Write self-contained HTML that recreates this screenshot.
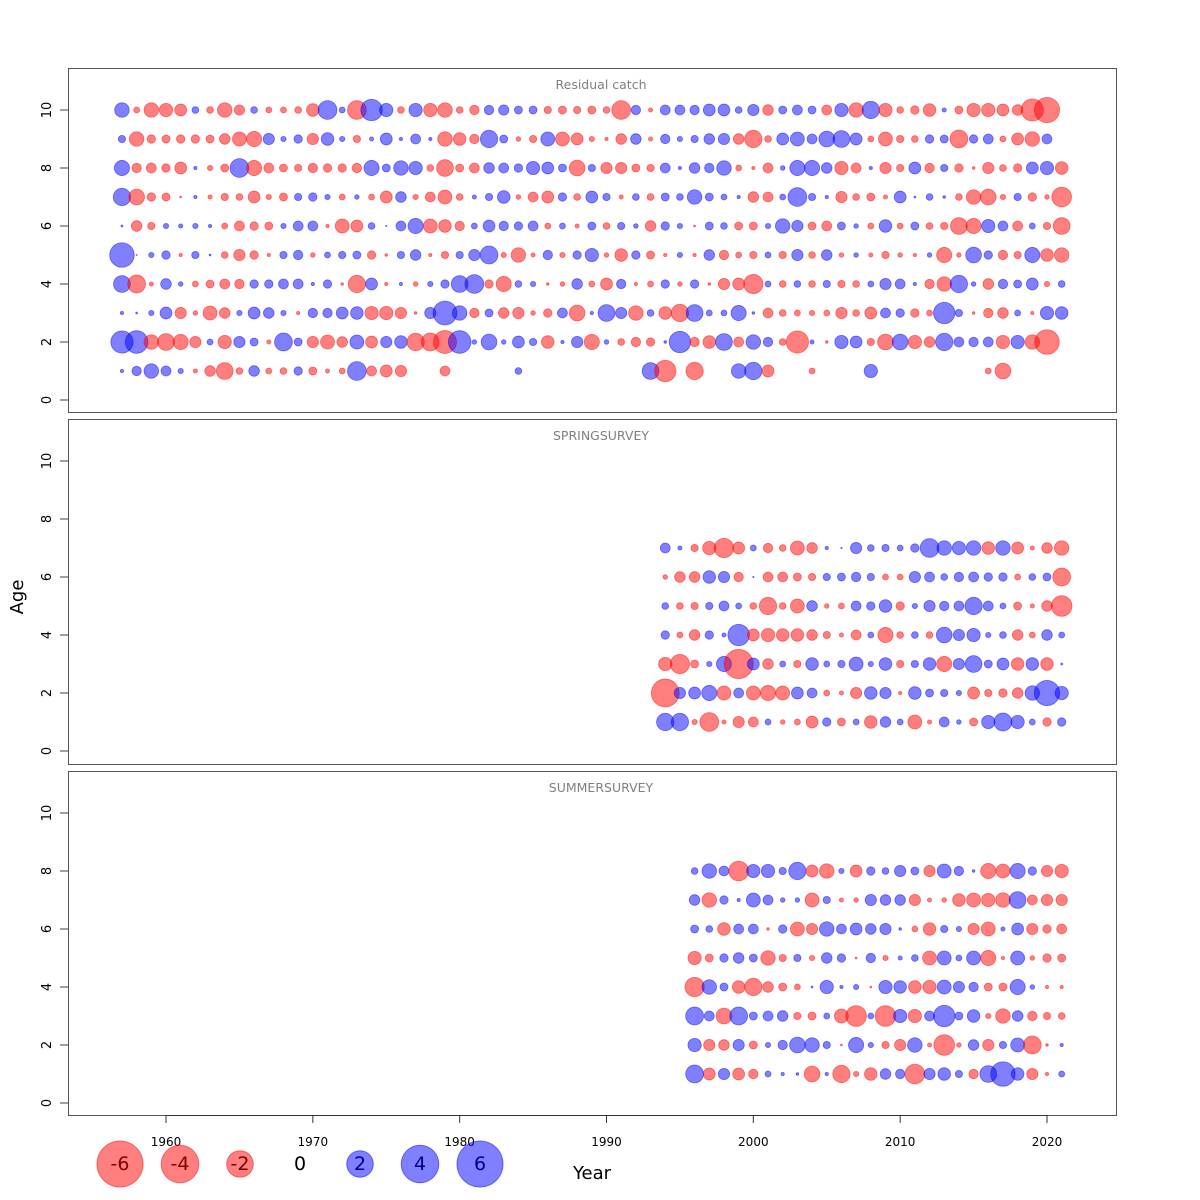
<!DOCTYPE html>
<html><head><meta charset="utf-8"><style>
body{margin:0;background:#fff}
svg{display:block;font-family:"DejaVu Sans","Liberation Sans",sans-serif}
</style></head><body>
<svg id="chart" width="1200" height="1200" viewBox="0 0 1200 1200"></svg>
<script>
// ---- catch panel: years 1957..2021, ages 1..10 ----
const catchYears = Array.from({length:65},(_,i)=>1957+i);
const catchAge10 = [0.6,-0.1,-0.6,-0.5,-0.4,0.13,-0.13,-0.6,-0.3,0.13,-0.1,-0.1,-0.13,-0.45,1.0,0.1,-1.0,1.3,0.5,-0.13,0.5,-0.5,-0.6,-0.13,-0.25,0.25,0.3,0.18,0.18,-0.15,-0.18,-0.15,-0.18,-0.13,-1.0,0.25,-0.05,0.28,0.28,0.25,0.4,0.4,0.13,0.36,-0.32,0.18,0.28,0.18,-0.28,0.5,-0.6,0.85,-0.5,-0.13,-0.2,-0.45,0.05,-0.18,-0.5,-0.5,-0.4,-0.32,-1.4,-1.8,null];
const catchAge9 = [0.15,-0.6,-0.2,-0.18,-0.2,-0.2,-0.18,-0.32,-0.55,-0.65,0.36,0.08,0.2,-0.36,0.45,0.08,-0.15,0.05,0.4,0.03,0.28,0.03,-0.6,-0.45,-0.25,0.85,0.18,-0.06,-0.15,0.55,-0.55,-0.4,-0.08,-0.03,-0.32,0.32,-0.05,0.25,0.08,0.15,0.32,0.36,-0.32,-0.85,-0.13,0.4,0.55,0.28,0.7,0.8,0.4,-0.1,-0.55,-0.15,-0.13,0.2,0.18,-0.9,0.2,0.28,-0.1,-0.4,-0.6,0.28,null];
const catchAge8 = [0.65,-0.25,-0.28,-0.2,-0.4,0.03,-0.08,-0.18,1.0,-0.65,-0.28,-0.18,-0.15,-0.25,-0.2,-0.2,-0.25,0.65,0.18,0.6,0.5,-0.13,-0.8,-0.18,-0.28,0.32,0.28,0.2,0.5,0.4,0.18,-0.7,0.15,-0.36,-0.36,-0.18,-0.15,0.28,0.03,0.32,0.25,0.6,-0.1,-0.03,-0.28,0.06,0.65,0.65,0.32,-0.5,-0.28,0.03,-0.36,-0.15,0.4,-0.25,0.15,-0.2,-0.02,-0.36,-0.13,-0.2,0.4,0.5,-0.45];
const catchAge7 = [0.85,-0.7,-0.2,-0.18,-0.01,0.03,-0.05,-0.15,-0.13,-0.4,-0.08,-0.18,0.15,0.2,0.08,-0.1,0.06,-0.1,-0.4,0.32,-0.08,-0.28,-0.55,-0.13,0.05,0.15,0.45,-0.06,-0.28,-0.4,0.2,-0.13,0.4,0.15,-0.05,0.13,-0.13,0.18,0.13,0.6,0.18,0.1,0.03,-0.32,-0.28,0.1,1.0,0.15,0.03,-0.36,-0.13,-0.18,-0.05,0.4,0.01,0.13,0.02,-0.13,-0.6,-0.7,-0.08,0.15,-0.2,-0.06,-1.1];
const catchAge6 = [0.01,-0.32,-0.15,0.08,0.05,0.08,0.03,-0.1,-0.28,-0.2,-0.18,0.08,0.28,0.28,-0.03,-0.55,-0.4,0.13,0.005,0.28,0.65,-0.55,-0.45,-0.25,0.1,0.4,0.25,0.2,0.28,-0.1,0.1,-0.05,0.18,-0.13,0.15,0.06,-0.32,0.2,0.08,-0.01,0.18,0.13,-0.18,-0.18,0.08,0.6,0.36,-0.18,-0.28,0.18,0.06,-0.1,0.45,-0.1,0.18,-0.13,-0.15,-0.8,-0.65,0.5,0.28,-0.28,0.1,-0.15,-0.8];
const catchAge5 = [1.7,-0.005,0.08,0.2,-0.03,0.15,0.01,-0.13,-0.36,-0.2,-0.03,0.15,0.25,-0.06,0.1,0.15,0.18,-0.2,-0.02,0.15,0.32,-0.03,-0.15,0.15,0.36,0.9,-0.08,-0.6,-0.05,0.25,-0.08,0.2,0.5,-0.06,-0.45,0.2,-0.18,-0.03,0.08,-0.03,0.32,-0.25,-0.1,-0.15,0.1,-0.15,0.36,-0.13,0.32,-0.06,0.06,-0.05,-0.15,-0.06,-0.03,0.06,-0.65,-0.06,0.7,0.2,-0.25,-0.15,0.65,-0.45,-0.6];
const catchAge4 = [0.8,-0.9,-0.05,0.32,0.06,-0.1,-0.18,-0.28,-0.25,0.2,0.2,0.28,0.28,0.03,0.2,-0.02,-0.85,0.4,-0.03,0.03,-0.06,0.08,0.2,0.8,1.0,-0.2,-0.65,0.13,0.08,-0.02,-0.06,0.32,-0.1,-0.4,0.25,-0.03,-0.1,0.2,-0.06,0.2,-0.02,-0.36,-0.4,-1.05,0.1,-0.13,0.13,-0.13,0.15,-0.15,-0.13,0.1,0.36,0.28,0.03,-0.25,-0.6,0.85,0.06,-0.32,0.25,0.18,0.4,-0.08,0.13];
const catchAge3 = [0.03,0.01,0.08,0.4,-0.36,-0.06,-0.55,-0.32,0.08,0.4,0.32,0.08,-0.03,0.25,0.25,0.4,0.45,-0.5,-0.5,-0.36,-0.02,0.36,1.6,0.6,-0.25,0.18,-0.32,-0.36,-0.06,-0.2,0.28,-0.7,0.03,0.8,0.36,-0.6,0.13,-0.45,-0.85,0.8,0.1,0.1,0.65,0.02,-0.28,-0.13,-0.1,-0.08,-0.1,-0.36,-0.13,-0.4,0.28,0.2,-0.2,-0.1,1.3,0.15,-0.02,-0.25,-0.32,0.1,-0.03,0.5,0.45];
const catchAge2 = [1.4,1.45,-0.6,-0.8,-0.65,-0.36,0.1,-0.5,0.36,0.18,-0.05,0.9,0.18,-0.36,-0.55,-0.32,0.55,-0.4,0.36,0.45,-0.85,-0.9,-1.5,1.45,0.06,0.7,0.06,0.4,0.15,-0.45,0.03,0.36,-0.65,0.06,-0.13,-0.25,-0.2,0.02,1.3,-0.25,-0.45,0.8,-0.28,0.6,0.25,-0.13,-1.4,0.05,-0.02,0.5,0.4,-0.15,-0.7,0.7,-0.5,-0.32,0.85,0.28,0.25,0.28,-0.5,0.5,-0.6,-1.7,null];
const catchAge1 = [0.03,0.25,0.6,0.28,0.08,-0.05,-0.32,-0.8,-0.13,0.32,-0.1,-0.13,0.2,-0.18,-0.05,-0.1,1.0,-0.28,-0.4,-0.36,null,null,-0.28,null,null,null,null,0.13,null,null,null,null,null,null,null,null,0.8,-1.3,null,-0.85,null,null,0.6,0.85,-0.4,null,null,-0.1,null,null,null,0.5,null,null,null,null,null,null,null,-0.1,-0.7,null,null,null,null];
// ---- spring survey: years 1994..2021, ages 1..7 ----
const springYears = Array.from({length:28},(_,i)=>1994+i);
const springAge7 = [0.28,0.05,-0.15,-0.5,-1.05,-0.4,0.1,-0.25,-0.13,-0.55,-0.32,0.03,0.005,0.36,0.13,0.15,0.1,0.2,1.0,0.6,0.5,0.6,-0.45,0.6,-0.4,-0.05,-0.32,-0.6];
const springAge6 = [-0.06,-0.32,-0.32,0.45,0.36,-0.25,0.005,-0.28,-0.28,-0.18,-0.15,0.15,0.18,0.25,0.15,-0.1,-0.1,0.36,0.28,0.13,0.25,0.28,0.2,0.2,-0.1,0.13,0.18,-0.9];
const springAge5 = [0.13,-0.13,-0.15,0.15,0.28,0.1,-0.13,-0.85,-0.13,-0.55,0.32,-0.06,-0.1,0.28,0.2,0.45,-0.2,0.08,0.36,0.25,0.28,0.85,0.28,0.1,-0.18,-0.05,-0.32,-1.2];
const springAge4 = [0.2,-0.1,-0.32,0.2,0.05,1.3,-0.4,-0.5,-0.45,-0.45,-0.32,-0.15,-0.05,-0.28,0.1,-0.65,-0.13,0.13,-0.13,0.7,0.36,0.5,0.08,0.13,-0.32,-0.1,0.32,0.1];
const springAge3 = [-0.5,-1.05,-0.18,0.08,0.65,-2.4,0.4,-0.32,0.1,-0.15,0.45,0.1,0.15,0.55,0.08,0.45,-0.15,0.15,0.45,-0.65,0.36,0.8,0.18,0.4,-0.45,0.45,-0.45,0.01];
const springAge2 = [-2.2,0.36,0.4,0.65,-0.55,0.28,-0.55,-0.65,-0.55,0.4,0.28,-0.1,-0.05,-0.36,0.45,0.36,-0.03,0.45,0.18,0.15,0.08,-0.4,-0.15,-0.2,-0.32,0.6,1.8,0.5];
const springAge1 = [0.85,0.85,-0.08,-1.0,-0.05,-0.36,-0.28,0.1,-0.06,-0.1,-0.4,0.2,-0.18,0.1,-0.45,0.32,0.1,-0.55,-0.05,0.28,0.06,-0.18,0.5,0.9,0.5,0.1,-0.2,0.2];
// ---- summer survey: years 1996..2021, ages 1..8 ----
const summerYears = Array.from({length:26},(_,i)=>1996+i);
const summerAge8 = [0.13,0.6,0.28,-1.1,0.5,0.5,0.15,0.85,-0.4,-0.6,0.08,-0.4,0.2,0.13,0.36,0.18,-0.36,0.55,0.25,0.02,-0.65,-0.55,0.65,0.2,-0.36,-0.5];
const summerAge7 = [0.32,-0.6,0.2,0.03,0.55,0.28,0.06,0.06,-0.55,0.15,-0.05,-0.06,0.36,0.32,0.32,-0.36,-0.05,-0.06,-0.45,-0.55,-0.5,-0.6,0.8,-0.28,-0.36,-0.36];
const summerAge6 = [0.18,0.13,-0.45,0.28,0.28,-0.02,0.2,-0.55,-0.36,0.6,0.28,0.4,0.32,0.36,0.02,-0.1,-0.45,0.15,0.08,-0.36,-0.55,0.05,0.4,-0.36,-0.2,-0.28];
const summerAge5 = [-0.5,-0.18,0.2,0.32,0.18,-0.6,-0.15,0.15,-0.08,0.32,0.2,-0.01,0.25,-0.08,0.05,0.13,-0.55,0.55,0.1,0.55,-0.65,-0.03,0.55,-0.06,-0.2,-0.18];
const summerAge4 = [-1.05,0.6,0.18,-0.45,-0.85,-0.32,-0.18,-0.1,0.01,0.5,0.03,0.08,-0.01,0.5,0.45,-0.45,-0.5,0.55,0.36,0.25,-0.18,-0.18,0.65,0.06,-0.03,-0.03];
const summerAge3 = [0.9,0.28,-0.7,0.9,0.18,0.28,0.32,-0.15,-0.18,0.1,-0.55,-1.2,0.1,-1.2,0.5,-0.5,0.28,1.3,0.18,0.45,-0.08,-0.6,0.32,-0.25,-0.15,-0.13];
const summerAge2 = [0.5,-0.36,-0.32,0.36,-0.18,0.08,0.25,0.7,0.6,0.15,-0.01,0.65,0.08,-0.15,-0.36,0.6,-0.05,-1.2,-0.06,0.32,-0.36,0.15,0.55,-0.9,-0.02,0.03];
const summerAge1 = [0.9,-0.4,0.36,-0.4,-0.25,0.1,0.03,0.02,-0.7,0.03,-0.85,-0.08,-0.45,0.32,0.25,-1.1,0.36,0.45,0.15,-0.25,0.8,1.7,0.45,-0.36,-0.03,0.1];
// ---- axes ----
const yTicks = [0,2,4,6,8,10];
const xTicks = [1960,1970,1980,1990,2000,2010,2020];
const legendValues = [-6,-4,-2,0,2,4,6];

const NS="http://www.w3.org/2000/svg";
const svg=document.getElementById('chart');
function mk(tag,attrs,parent){const e=document.createElementNS(NS,tag);for(const k in attrs)e.setAttribute(k,attrs[k]);(parent||svg).appendChild(e);return e;}
function xScale(yr){return 166+(yr-1960)*(881/60);}
function rScale(v){return 9.4*Math.sqrt(Math.abs(v));}

const panels=[
 {name:'catch-panel',title:'Residual catch',top:68,bottom:412,base:400,years:catchYears,rows:[catchAge1,catchAge2,catchAge3,catchAge4,catchAge5,catchAge6,catchAge7,catchAge8,catchAge9,catchAge10]},
 {name:'spring-survey-panel',title:'SPRINGSURVEY',top:419,bottom:764,base:751,years:springYears,rows:[springAge1,springAge2,springAge3,springAge4,springAge5,springAge6,springAge7]},
 {name:'summer-survey-panel',title:'SUMMERSURVEY',top:771,bottom:1115,base:1103,years:summerYears,rows:[summerAge1,summerAge2,summerAge3,summerAge4,summerAge5,summerAge6,summerAge7,summerAge8]}
];
panels.forEach(p=>{
  const g=mk('g',{});
  
  
  const yS=a=>p.base-a*29;
  const frame=mk('rect',{x:68.5,y:p.top+0.5,width:1048,height:p.bottom-p.top,fill:'none',stroke:'#555','stroke-width':1},g);
  
  
  const t=mk('text',{x:601,y:p.top+21,'text-anchor':'middle','font-size':12.5,fill:'#808080'},g);
  t.textContent=p.title;
  
  
  yTicks.forEach(v=>{
    const tk=mk('line',{x1:60,x2:68,y1:yS(v),y2:yS(v),stroke:'#444'},g);
    
    
    const lb=mk('text',{x:0,y:0,transform:`translate(51,${yS(v)}) rotate(-90)`,'text-anchor':'middle','font-size':13,fill:'#000'},g);
    lb.textContent=v;
    
    
  });
  p.rows.forEach((row,ai)=>{
    row.forEach((v,yi)=>{
      if(v===null||v===undefined)return;
      const c=mk('circle',{cx:xScale(p.years[yi]),cy:yS(ai+1),r:rScale(v),fill:v<0?'rgba(255,0,0,0.5)':'rgba(0,0,255,0.5)',stroke:v<0?'rgba(255,0,0,0.5)':'rgba(0,0,255,0.5)','stroke-width':0.8},g);
      
      
    });
  });
});
// x axis
const xa=mk('line',{x1:xScale(1960),x2:xScale(2020),y1:1115.5,y2:1115.5,stroke:'#333'});


xTicks.forEach(v=>{
  const tk=mk('line',{x1:xScale(v),x2:xScale(v),y1:1115,y2:1123,stroke:'#333'});
  
  
  const lb=mk('text',{x:xScale(v),y:1146,'text-anchor':'middle','font-size':12,fill:'#000'});
  lb.textContent=v;
  
  
});
const xt=mk('text',{x:592,y:1179,'text-anchor':'middle','font-size':18,fill:'#000'});
xt.textContent='Year';


const yt=mk('text',{x:0,y:0,transform:'translate(23,597) rotate(-90)','text-anchor':'middle','font-size':18,fill:'#000'});
yt.textContent='Age';


// legend
legendValues.forEach((v,i)=>{
  const cx=120+i*60;
  const lt=mk('text',{x:cx,y:1170,'text-anchor':'middle','font-size':19,fill:'#000'});
  lt.textContent=v;
  
  
  if(v!==0){
    const c=mk('circle',{cx:cx,cy:1164,r:rScale(v),fill:v<0?'rgba(255,0,0,0.5)':'rgba(0,0,255,0.5)',stroke:v<0?'rgba(255,0,0,0.5)':'rgba(0,0,255,0.5)'});
    
    
  }
});
</script>
</body></html>
